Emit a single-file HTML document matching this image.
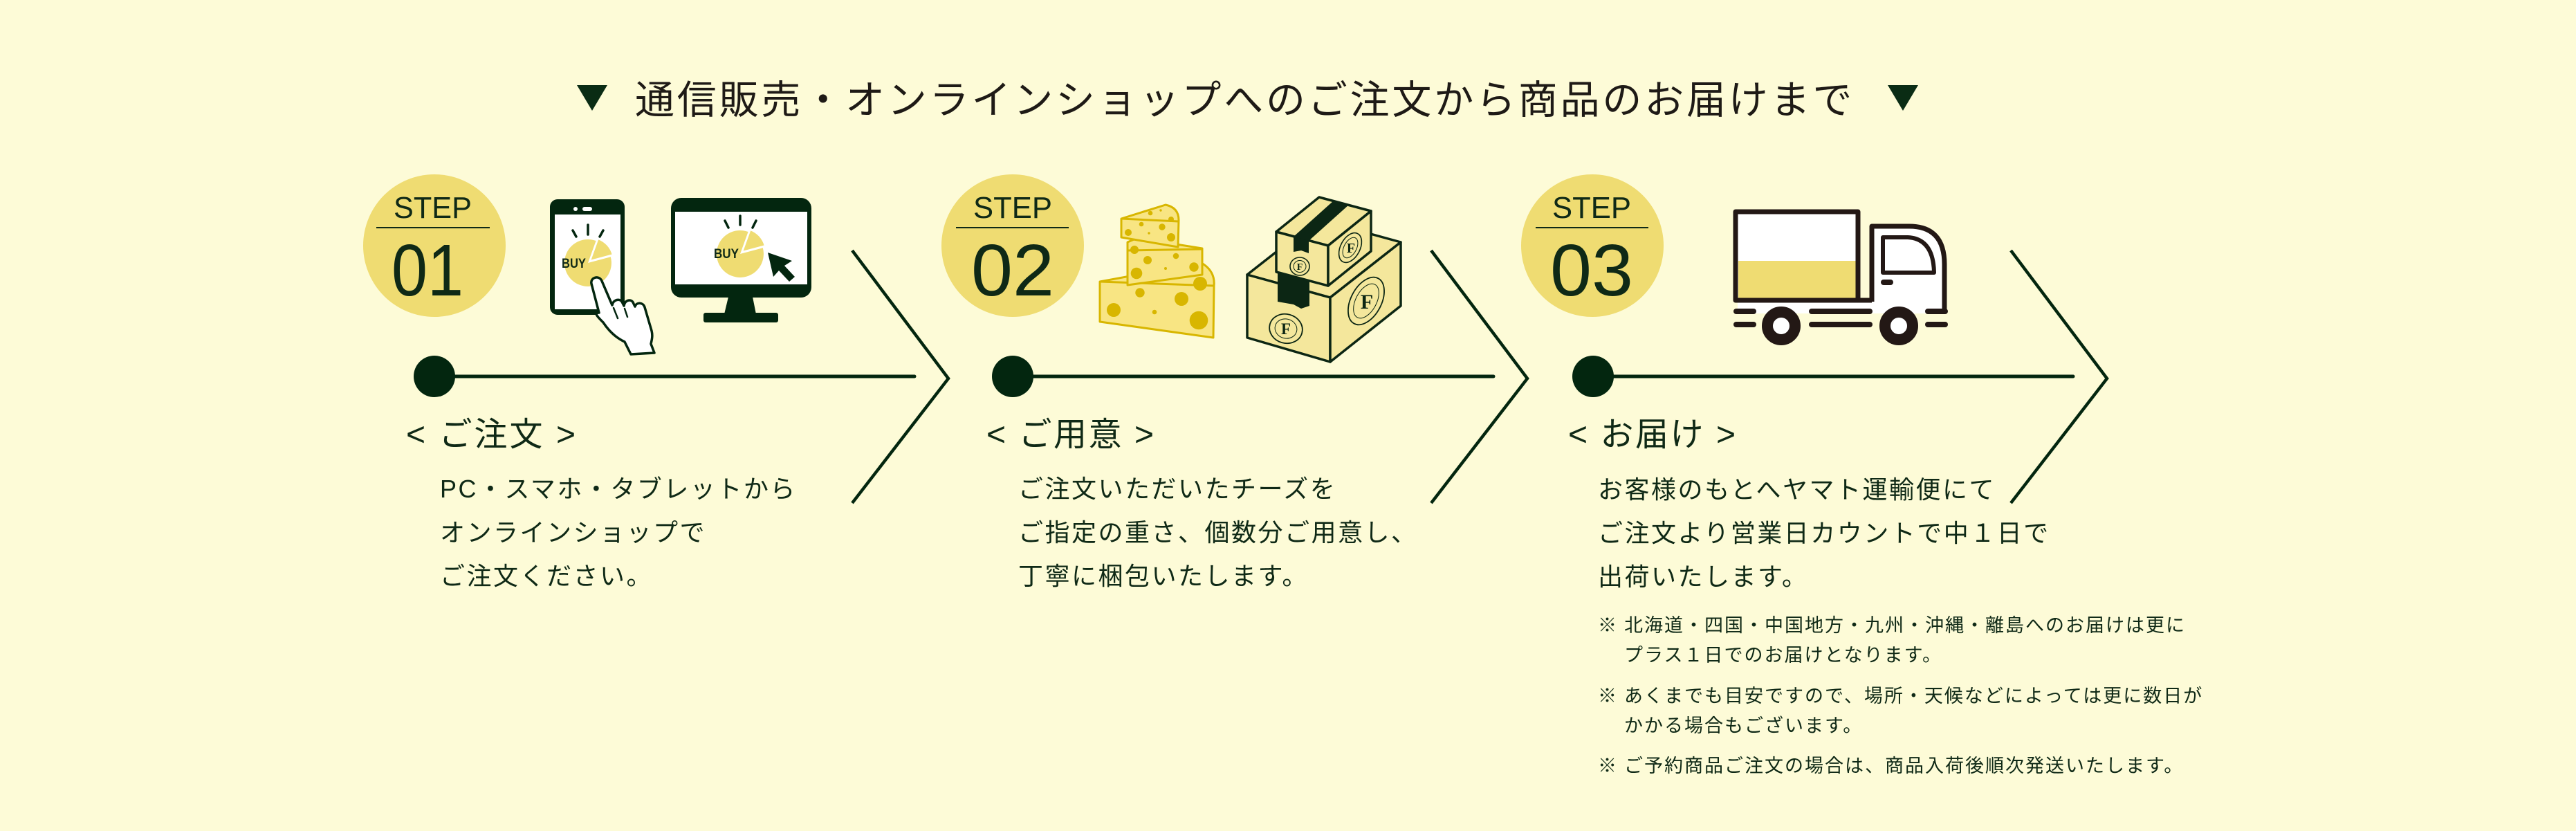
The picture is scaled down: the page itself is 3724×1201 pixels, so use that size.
<!DOCTYPE html>
<html><head><meta charset="utf-8">
<style>
html,body{margin:0;padding:0;background:#fdfbd7;}
svg{display:block}
.t{font-family:"Liberation Sans","Noto Sans CJK JP",sans-serif;fill:#0f2916;}
.b{font-size:36px;letter-spacing:2.5px;}
.n{font-size:27px;letter-spacing:2px;}
.l{font-size:48px;}
.s{font-family:"Liberation Sans",sans-serif;fill:#0f2916;}
</style></head><body>
<svg width="3724" height="1201" viewBox="0 0 3724 1201" xmlns="http://www.w3.org/2000/svg">
<rect width="3724" height="1201" fill="#fdfbd7"/>

<!-- Title -->
<polygon points="834,123 878,123 856,160" fill="#0a2c14"/>
<polygon points="2729,123 2773,123 2751,160" fill="#0a2c14"/>
<text x="918" y="164" class="t" font-size="57" letter-spacing="3.8" style="fill:#1e1a16">通信販売・オンラインショップへのご注文から商品のお届けまで</text>

<!-- STEP circles -->
<g fill="#efdc72">
<circle cx="628" cy="355" r="103"/>
<circle cx="1464" cy="355" r="103"/>
<circle cx="2302" cy="355" r="103"/>
</g>
<g stroke="#0f2916" stroke-width="2">
<line x1="544" y1="329" x2="708" y2="329"/>
<line x1="1382" y1="329" x2="1545" y2="329"/>
<line x1="2220" y1="329" x2="2383" y2="329"/>
</g>
<text x="569" y="315" class="s" font-size="44" textLength="113" lengthAdjust="spacingAndGlyphs">STEP</text>
<text x="1407" y="315" class="s" font-size="44" textLength="114" lengthAdjust="spacingAndGlyphs">STEP</text>
<text x="2244" y="315" class="s" font-size="44" textLength="114" lengthAdjust="spacingAndGlyphs">STEP</text>
<text x="566" y="427" class="s" font-size="106" textLength="104" lengthAdjust="spacingAndGlyphs">01</text>
<text x="1404" y="427" class="s" font-size="106" textLength="120" lengthAdjust="spacingAndGlyphs">02</text>
<text x="2241" y="427" class="s" font-size="106" textLength="120" lengthAdjust="spacingAndGlyphs">03</text>

<!-- Timeline lines, dots, chevrons -->
<g stroke="#03260f" stroke-width="5" stroke-linecap="round">
<line x1="628" y1="544" x2="1322" y2="544"/>
<line x1="1464" y1="544" x2="2159" y2="544"/>
<line x1="2303" y1="544" x2="2997" y2="544"/>
</g>
<g fill="#03260f">
<circle cx="628" cy="544" r="30"/>
<circle cx="1464" cy="544" r="30"/>
<circle cx="2303" cy="544" r="30"/>
</g>
<g stroke="#03260f" stroke-width="4.5" fill="none" stroke-linejoin="miter">
<polyline points="1232,362 1371,547 1232,727"/>
<polyline points="2069,362 2208,547 2069,727"/>
<polyline points="2907,362 3046,547 2907,727"/>
</g>

<!-- Phone -->
<rect x="795" y="288" width="108" height="167" rx="11" fill="#03260f"/>
<rect x="802" y="310" width="95" height="137" fill="#ffffff"/>
<circle cx="832" cy="302" r="3" fill="#fff"/>
<rect x="842" y="299" width="14" height="6" rx="3" fill="#fff"/>
<path d="M850,380 L882.8,371.2 A34,34 0 1 1 861.6,348 Z" fill="#efdc72"/>
<path d="M853,377 L864.6,345 A34,34 0 0 1 885.8,368.2 Z" fill="#efdc72" stroke="#fff" stroke-width="2"/>
<g stroke="#03260f" stroke-width="3.5" stroke-linecap="round">
<line x1="828" y1="333" x2="833" y2="342"/>
<line x1="850" y1="325" x2="850" y2="339"/>
<line x1="872" y1="333" x2="867" y2="342"/>
</g>
<text x="812" y="387" class="s" font-size="19" font-weight="bold" textLength="35" lengthAdjust="spacingAndGlyphs">BUY</text>
<!-- Hand -->
<path d="M855,410 C853,401 866,397 870,406 L885,441 C886,433 897,430 900,438 L902,442 C903,433 914,431 916,439 L918,443 C920,436 930,437 932,444 L942,478 C944,486 942,492 941,497 L946,510 L912,512 L903,494 C890,488 880,478 872,466 C864,458 858,452 866,452 Z" fill="#fff" stroke="#03260f" stroke-width="3.5" stroke-linejoin="round"/>
<g stroke="#03260f" stroke-width="2.5" stroke-linecap="round">
<line x1="887" y1="445" x2="893" y2="460"/>
<line x1="903" y1="446" x2="907" y2="458"/>
</g>

<!-- Monitor -->
<rect x="970" y="286" width="203" height="144" rx="15" fill="#03260f"/>
<rect x="976" y="306" width="191" height="105" fill="#fff"/>
<polygon points="1053,429 1088,429 1093,454 1047,454" fill="#03260f"/>
<rect x="1017" y="452" width="108" height="14" rx="3" fill="#03260f"/>
<path d="M1070,367 L1102.8,358.2 A34,34 0 1 1 1081.6,335 Z" fill="#efdc72"/>
<path d="M1073,364 L1084.6,332 A34,34 0 0 1 1105.8,355.2 Z" fill="#efdc72" stroke="#fff" stroke-width="2"/>
<g stroke="#03260f" stroke-width="3.5" stroke-linecap="round">
<line x1="1048" y1="319" x2="1053" y2="329"/>
<line x1="1070" y1="312" x2="1070" y2="325"/>
<line x1="1093" y1="319" x2="1088" y2="329"/>
</g>
<text x="1032" y="373" class="s" font-size="19" font-weight="bold" textLength="36" lengthAdjust="spacingAndGlyphs">BUY</text>
<polygon points="1110,365 1118,400 1126,391 1141,407 1149,400 1134,384 1145,377" fill="#03260f"/>

<!-- Cheese -->
<defs>
<clipPath id="cb"><path d="M1590,407 L1737,380 Q1757,392 1755,413 L1754,488 L1590,465 Z"/></clipPath>
<clipPath id="cm"><path d="M1630,350 L1644,344 L1738,359 L1738,397 L1630,412 Z"/></clipPath>
<clipPath id="ct"><path d="M1621,316 L1685,296 Q1704,300 1704,318 L1703,357 L1621,343 Z"/></clipPath>
</defs>
<g stroke="#d8b600" stroke-width="3" stroke-linejoin="round" fill="#f8e583">
<path d="M1590,407 L1737,380 Q1757,392 1755,413 L1754,488 L1590,465 Z"/>
</g>
<g fill="#d8b600" clip-path="url(#cb)">
<circle cx="1735" cy="410" r="10"/><circle cx="1648" cy="423" r="6.7"/><circle cx="1708" cy="432" r="10"/>
<circle cx="1610" cy="448" r="10"/><circle cx="1669" cy="451" r="3.3"/><circle cx="1733" cy="463" r="13.3"/>
</g>
<line x1="1590" y1="407" x2="1755" y2="413" stroke="#d8b600" stroke-width="3"/>
<g stroke="#d8b600" stroke-width="3" stroke-linejoin="round" fill="#f8e583">
<path d="M1630,350 L1644,344 L1738,359 L1738,397 L1630,412 Z"/>
</g>
<g fill="#d8b600" clip-path="url(#cm)">
<circle cx="1640" cy="361" r="6"/><circle cx="1659" cy="376" r="6"/><circle cx="1700" cy="370" r="4.3"/>
<circle cx="1685" cy="388" r="2"/><circle cx="1726" cy="386" r="6.7"/><circle cx="1643" cy="395" r="8.3"/>
</g>
<line x1="1630" y1="362" x2="1738" y2="360" stroke="#d8b600" stroke-width="3"/>
<g stroke="#d8b600" stroke-width="3" stroke-linejoin="round" fill="#f8e583">
<path d="M1621,316 L1685,296 Q1704,300 1704,318 L1703,357 L1621,343 Z"/>
</g>
<g fill="#d8b600" clip-path="url(#ct)">
<circle cx="1663" cy="308" r="3.3"/><circle cx="1678" cy="304" r="1.7"/><circle cx="1693" cy="317" r="4"/>
<circle cx="1650" cy="324" r="3.3"/><circle cx="1680" cy="328" r="4.7"/><circle cx="1631" cy="336" r="5"/>
<circle cx="1661" cy="337" r="1.7"/><circle cx="1693" cy="343" r="6"/>
</g>
<line x1="1621" y1="316" x2="1704" y2="320" stroke="#d8b600" stroke-width="3"/>

<!-- Boxes -->
<g stroke="#0c2614" stroke-width="3.5" stroke-linejoin="round" fill="#f4e79c">
<polygon points="1803,397 1905,317 2025,350 1923,430"/>
<polygon points="1803,397 1923,430 1923,523 1803,488"/>
<polygon points="1923,430 2025,350 2025,442 1923,523"/>
</g>
<polygon points="1847,392 1893,404 1893,442 1881,446 1870,440 1847,436" fill="#0c2614"/>
<g stroke="#0c2614" stroke-width="3.5" stroke-linejoin="round" fill="#f4e79c">
<polygon points="1845,335 1907,285 1982,305 1920,355"/>
<polygon points="1845,335 1920,355 1920,413 1845,393"/>
<polygon points="1920,355 1982,305 1982,363 1920,413"/>
</g>
<polygon points="1870,342 1892,348 1950,296 1928,290" fill="#0c2614"/>
<polygon points="1870,342 1892,348 1892,366 1881,362 1870,364" fill="#0c2614"/>
<g fill="none" stroke="#0c2614">
<ellipse cx="1879" cy="385" rx="14" ry="13" stroke-width="1.6"/>
<ellipse cx="1879" cy="385" rx="9" ry="8.5" stroke-width="1"/>
<ellipse cx="1952" cy="358" rx="14" ry="23" stroke-width="1.6" transform="rotate(28 1952 358)"/>
<ellipse cx="1952" cy="358" rx="9" ry="16" stroke-width="1" transform="rotate(28 1952 358)"/>
<ellipse cx="1859" cy="475" rx="24" ry="21" stroke-width="1.8" transform="rotate(15 1859 475)"/>
<ellipse cx="1859" cy="475" rx="16" ry="14" stroke-width="1" transform="rotate(15 1859 475)"/>
<ellipse cx="1975" cy="435" rx="22" ry="37" stroke-width="1.8" transform="rotate(28 1975 435)"/>
<ellipse cx="1975" cy="435" rx="15" ry="27" stroke-width="1" transform="rotate(28 1975 435)"/>
</g>
<g font-family="'Liberation Serif',serif" font-weight="bold" fill="#0c2614" text-anchor="middle">
<text x="1879" y="390" font-size="14">F</text>
<text x="1953" y="365" font-size="20">F</text>
<text x="1859" y="483" font-size="23">F</text>
<text x="1976" y="446" font-size="30">F</text>
</g>

<!-- Truck -->
<rect x="2512" y="436" width="300" height="17" fill="#fff"/>
<g stroke="#231815" stroke-width="7" stroke-linejoin="round">
<path d="M2706,436 V327 H2760 Q2811,327 2811,382 V452" fill="#fff"/>
<rect x="2509" y="306" width="177" height="128" fill="#fff"/>
</g>
<rect x="2513" y="377" width="170" height="54" fill="#efdc72"/>
<rect x="2509" y="306" width="177" height="128" fill="none" stroke="#231815" stroke-width="7" rx="2"/>
<line x1="2686" y1="434" x2="2706" y2="434" stroke="#231815" stroke-width="7"/>
<path d="M2722,343 H2758 Q2795,345 2796,394 H2722 Z" fill="#fff" stroke="#231815" stroke-width="6" stroke-linejoin="round"/>
<rect x="2719" y="404" width="18" height="8" rx="4" fill="#231815"/>
<g stroke="#231815" stroke-width="8" stroke-linecap="round">
<line x1="2510" y1="450" x2="2535" y2="450"/>
<line x1="2619" y1="450" x2="2703" y2="450"/>
<line x1="2787" y1="450" x2="2812" y2="450"/>
<line x1="2510" y1="469" x2="2535" y2="469"/>
<line x1="2619" y1="469" x2="2703" y2="469"/>
<line x1="2787" y1="469" x2="2812" y2="469"/>
</g>
<circle cx="2575" cy="471" r="20" fill="#fff" stroke="#231815" stroke-width="16"/>
<circle cx="2745" cy="471" r="20" fill="#fff" stroke="#231815" stroke-width="16"/>

<!-- Step labels -->
<text x="587" y="644" class="t l" textLength="245" lengthAdjust="spacing">&lt; ご注文 &gt;</text>
<text x="1426" y="644" class="t l" textLength="242" lengthAdjust="spacing">&lt; ご用意 &gt;</text>
<text x="2267" y="644" class="t l" textLength="242" lengthAdjust="spacing">&lt; お届け &gt;</text>

<!-- Step 1 body -->
<text x="636" y="719" class="t b">PC・スマホ・タブレットから</text>
<text x="636" y="782" class="t b">オンラインショップで</text>
<text x="636" y="845" class="t b">ご注文ください。</text>

<!-- Step 2 body -->
<text x="1472" y="719" class="t b">ご注文いただいたチーズを</text>
<text x="1472" y="782" class="t b">ご指定の重さ、個数分ご用意し、</text>
<text x="1472" y="845" class="t b">丁寧に梱包いたします。</text>

<!-- Step 3 body -->
<text x="2310" y="720" class="t b">お客様のもとへヤマト運輸便にて</text>
<text x="2310" y="783" class="t b">ご注文より営業日カウントで中１日で</text>
<text x="2310" y="846" class="t b">出荷いたします。</text>

<!-- Notes -->
<text x="2310" y="913" class="t n">※</text>
<text x="2348" y="913" class="t n">北海道・四国・中国地方・九州・沖縄・離島へのお届けは更に</text>
<text x="2348" y="956" class="t n">プラス１日でのお届けとなります。</text>
<text x="2310" y="1015" class="t n">※</text>
<text x="2348" y="1015" class="t n">あくまでも目安ですので、場所・天候などによっては更に数日が</text>
<text x="2348" y="1058" class="t n">かかる場合もございます。</text>
<text x="2310" y="1116" class="t n">※</text>
<text x="2348" y="1116" class="t n">ご予約商品ご注文の場合は、商品入荷後順次発送いたします。</text>
</svg>
</body></html>
